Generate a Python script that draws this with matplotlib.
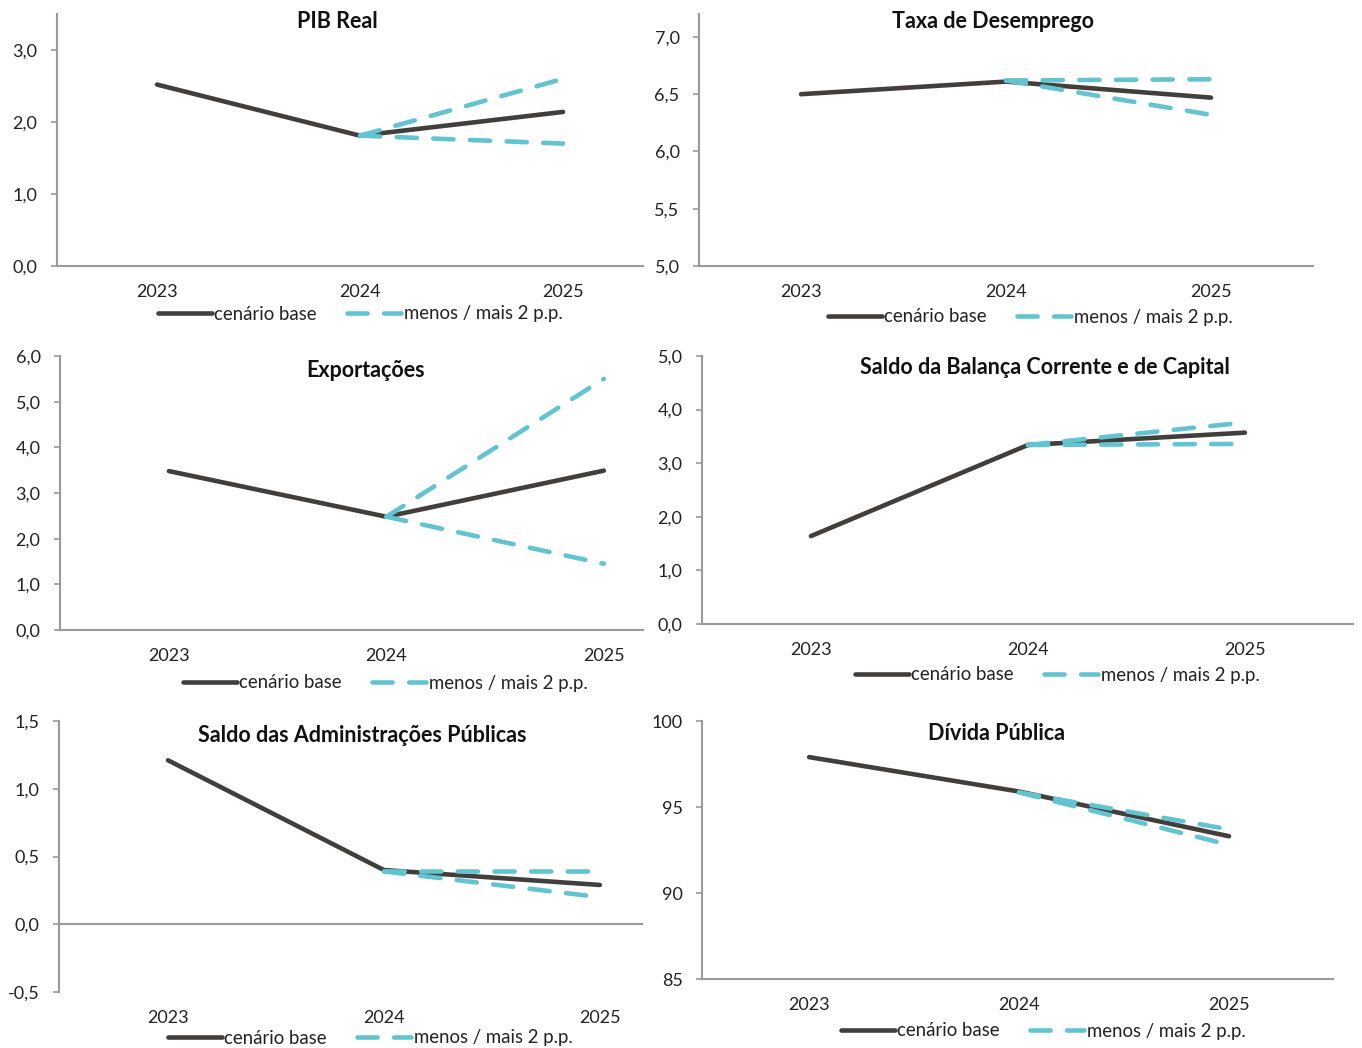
import matplotlib
matplotlib.use("Agg")
import matplotlib.pyplot as plt
from matplotlib.ticker import FixedLocator, FuncFormatter

plt.rcParams['font.family'] = ['Lato', 'DejaVu Sans']

years = ['2023', '2024', '2025']

# PIB Real
pib_base = [2.52, 1.81, 2.14]
pib_high = [1.81, 2.6]
pib_low = [1.81, 1.70]

# Taxa de Desemprego
desemp_base = [6.50, 6.61, 6.47]
desemp_high = [6.62, 6.63]
desemp_low = [6.62, 6.32]

# Exportações
export_base = [3.48, 2.48, 3.49]
export_high = [2.48, 5.5]
export_low = [2.48, 1.45]

# Saldo da Balança Corrente e de Capital
balanca_base = [1.64, 3.34, 3.57]
balanca_high = [3.34, 3.76]
balanca_low = [3.34, 3.36]

# Saldo das Administrações Públicas
saldo_base = [1.21, 0.40, 0.29]
saldo_high = [0.39, 0.39]
saldo_low = [0.39, 0.20]

# Dívida Pública
divida_base = [97.9, 95.9, 93.3]
divida_high = [95.85, 93.7]
divida_low = [95.85, 92.8]

W, H = 1362, 1048
fig = plt.figure(figsize=(W / 100, H / 100), dpi=100)

base_col = '#423e3b'
dash_col = '#62c4d0'
axis_col = '#9a9a9a'


def px_axes(l, t, r, b):
    return fig.add_axes([l / W, 1 - b / H, (r - l) / W, (b - t) / H])


def fmt_comma(v, pos):
    return ('%.1f' % v).replace('.', ',')


def fmt_int(v, pos):
    return '%d' % v


def panel(box, title, tpos, base, high, low, ylim, yticks, fmt, xlim, leg_pos, zero_line=False):
    ax = px_axes(*box)
    x = [0, 1, 2]
    ax.plot(x, base, color=base_col, lw=3.3, solid_capstyle='round', zorder=3,
            label='cenário base')
    ax.plot(x[1:], high, color=dash_col, lw=3.3, dashes=(4.4, 3.6),
            dash_capstyle='round', zorder=4, label='menos / mais 2 p.p.')
    ax.plot(x[1:], low, color=dash_col, lw=3.3, dashes=(4.4, 3.6),
            dash_capstyle='round', zorder=4)
    ax.set_ylim(*ylim)
    ax.set_xlim(*xlim)
    ax.yaxis.set_major_locator(FixedLocator(yticks))
    ax.yaxis.set_major_formatter(FuncFormatter(fmt))
    ax.set_xticks(x)
    ax.set_xticklabels(years)
    for s in ['top', 'right']:
        ax.spines[s].set_visible(False)
    for s in ['left', 'bottom']:
        ax.spines[s].set_color(axis_col)
        ax.spines[s].set_linewidth(1.5)
    if zero_line:
        ax.spines['bottom'].set_visible(False)
        ax.axhline(0, color=axis_col, lw=1.5, zorder=1)
    ax.tick_params(axis='y', length=4, width=1.2, color=axis_col, pad=10,
                   labelsize=13, labelcolor='#222222')
    ax.tick_params(axis='x', length=0, pad=13, labelsize=13, labelcolor='#222222')
    fig.text(tpos[0] / W, 1 - tpos[1] / H, title, ha='center', va='center',
             fontsize=15.5, fontweight='bold', color='#111111')
    fig.legend(handles=ax.get_lines()[:2], loc='center',
               bbox_to_anchor=(leg_pos[0] / W, 1 - leg_pos[1] / H), ncol=2,
               frameon=False, fontsize=13.4, handlelength=2.9, handletextpad=0.15,
               columnspacing=1.6, borderpad=0, labelcolor='#222222')
    return ax


panel((57, 14, 643, 266), 'PIB Real', (337, 21), pib_base, pib_high, pib_low,
      (0, 3.5), [0, 1, 2, 3], fmt_comma, (-0.493, 2.394), (360, 314))
panel((699, 14, 1313, 266), 'Taxa de Desemprego', (993, 21), desemp_base, desemp_high,
      desemp_low, (5.0, 7.2), [5.0, 5.5, 6.0, 6.5, 7.0], fmt_comma, (-0.498, 2.498),
      (1030, 317))
panel((60, 356, 643, 630), 'Exportações', (366, 371), export_base, export_high, export_low,
      (0, 6), [0, 1, 2, 3, 4, 5, 6], fmt_comma, (-0.501, 2.18), (385, 683))
panel((702, 356, 1353, 624), 'Saldo da Balança Corrente e de Capital', (1045, 367),
      balanca_base, balanca_high, balanca_low, (0, 5), [0, 1, 2, 3, 4, 5], fmt_comma,
      (-0.502, 2.498), (1057, 675))
panel((59, 721, 643, 992), 'Saldo das Administrações Públicas', (362, 735),
      saldo_base, saldo_high, saldo_low, (-0.5, 1.5), [-0.5, 0, 0.5, 1.0, 1.5], fmt_comma,
      (-0.505, 2.2), (370, 1038), zero_line=True)
panel((702, 721, 1333, 979), 'Dívida Pública', (996, 733), divida_base, divida_high,
      divida_low, (85, 100), [85, 90, 95, 100], fmt_int, (-0.51, 2.495), (1043, 1031))

fig.savefig('out.png', dpi=100)
